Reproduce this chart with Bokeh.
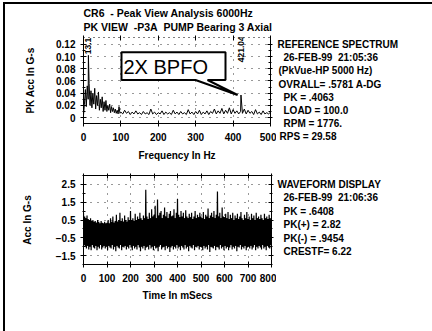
import numpy as np
from bokeh.plotting import figure
from bokeh.layouts import column, row
from bokeh.models import (ColumnDataSource, Label, LinearAxis, FixedTicker, Range1d,
                          CustomJSTickFormatter)
from bokeh.embed import file_html
from bokeh.resources import INLINE

FONT = "Liberation Sans"
NB = "\u00a0"

# ---------------- data ----------------
# Peak-view spectrum, 0-97.5 Hz in 2.5 Hz bins (G-s)
spec_low_amp = [0.004, 0.022, 0.046, 0.018, 0.052, 0.030, 0.056, 0.020, 0.044, 0.016,
                0.040, 0.022, 0.048, 0.014, 0.036, 0.020, 0.042, 0.012, 0.030, 0.016,
                0.034, 0.010, 0.026, 0.012, 0.028, 0.010, 0.020, 0.012, 0.022, 0.008,
                0.018, 0.010, 0.016, 0.008, 0.014, 0.007, 0.012, 0.006, 0.018, 0.007]
# Peak-view spectrum, 100-500 Hz in 5 Hz bins (G-s)
spec_high_amp = [0.009, 0.006, 0.012, 0.007, 0.010, 0.005, 0.009, 0.006, 0.011, 0.006,
                 0.008, 0.005, 0.010, 0.006, 0.008, 0.005, 0.014, 0.006, 0.009, 0.005,
                 0.008, 0.006, 0.011, 0.005, 0.009, 0.006, 0.008, 0.005, 0.012, 0.006,
                 0.009, 0.005, 0.010, 0.006, 0.008, 0.005, 0.013, 0.006, 0.009, 0.005,
                 0.010, 0.006, 0.012, 0.005, 0.009, 0.006, 0.011, 0.005, 0.010, 0.007,
                 0.014, 0.006, 0.011, 0.007, 0.015, 0.006, 0.012, 0.007, 0.016, 0.006,
                 0.013, 0.007, 0.011, 0.006, 0.010, 0.007, 0.014, 0.006, 0.012, 0.007,
                 0.010, 0.005, 0.013, 0.006, 0.009, 0.005, 0.011, 0.006, 0.008, 0.006,
                 0.009]
# Labelled spectral peaks
peak_freq = [13.1, 421.04]
peak_amp = [0.102, 0.037]
peak_text = ["13.1", "421.04"]

# Waveform local maxima (t = 0, 5, ..., 795 ms) and minima (t = 2.5, 7.5, ... ms), G-s
wave_max = [0.90, 0.70, 0.60, 0.75, 0.55, 0.50, 0.60, 0.45, 0.50, 0.40,
            0.45, 0.35, 0.50, 0.40, 0.30, 0.45, 0.35, 0.30, 0.40, 0.30,
            0.35, 0.50, 0.30, 0.60, 0.40, 0.70, 0.35, 0.45, 0.80, 0.40,
            0.50, 0.90, 0.45, 0.60, 0.40, 0.75, 0.50, 0.40, 0.65, 0.50,
            1.00, 0.50, 0.60, 0.45, 0.85, 0.50, 0.70, 0.55, 0.90, 0.60,
            0.50, 0.75, 0.60, 2.20, 0.70, 0.55, 0.90, 0.60, 1.10, 0.70,
            0.80, 1.30, 0.60, 1.65, 0.75, 0.90, 1.00, 0.60, 0.80, 1.20,
            0.70, 0.95, 0.60, 0.85, 1.00, 0.70, 0.75, 1.10, 0.60, 0.90,
            1.70, 0.80, 0.65, 1.00, 0.70, 0.90, 0.60, 1.05, 0.70, 0.60,
            0.85, 0.65, 0.90, 0.55, 0.70, 1.00, 0.60, 0.80, 0.65, 0.90,
            0.70, 0.60, 0.95, 0.55, 0.80, 0.70, 1.15, 0.60, 0.75, 0.90,
            0.65, 1.00, 0.60, 0.80, 2.10, 0.70, 0.90, 0.60, 1.20, 0.70,
            0.65, 0.85, 0.60, 0.95, 0.55, 0.80, 0.60, 0.90, 0.50, 0.75,
            0.60, 0.85, 0.55, 0.70, 0.95, 0.60, 0.50, 0.80, 0.60, 0.95,
            0.55, 0.70, 0.50, 0.85, 0.60, 0.75, 0.50, 0.90, 0.60, 0.70,
            0.55, 0.80, 0.60, 0.50, 0.85, 0.60, 0.70, 0.55, 0.80, 0.60]
wave_min = [-0.90, -1.00, -1.10, -0.95, -1.15, -1.00, -1.20, -0.90, -1.05, -1.10,
            -0.95, -1.20, -1.00, -1.10, -0.90, -1.15, -1.05, -0.95, -1.10, -1.00,
            -1.20, -0.95, -1.05, -1.10, -0.90, -1.15, -1.00, -1.25, -0.95, -1.05,
            -1.10, -0.90, -1.20, -1.00, -1.05, -0.95, -1.15, -1.00, -1.10, -0.90,
            -1.05, -1.20, -0.95, -1.10, -1.00, -1.15, -0.90, -1.05, -1.25, -1.00,
            -1.10, -0.95, -1.20, -1.05, -1.00, -1.15, -0.90, -1.10, -1.00, -1.20,
            -0.95, -1.10, -1.05, -1.25, -1.00, -0.90, -1.15, -1.05, -1.00, -1.20,
            -0.95, -1.10, -1.00, -1.30, -1.05, -0.95, -1.15, -1.00, -1.10, -0.90,
            -1.10, -1.00, -1.20, -0.95, -1.05, -1.15, -0.90, -1.10, -1.00, -1.25,
            -0.95, -1.05, -1.10, -0.90, -1.20, -1.00, -1.05, -0.95, -1.15, -1.00,
            -1.05, -1.20, -0.95, -1.10, -1.00, -1.15, -0.90, -1.30, -1.00, -1.05,
            -1.10, -0.95, -1.20, -1.00, -1.05, -1.15, -0.90, -1.10, -1.00, -1.20,
            -0.95, -1.10, -1.00, -1.20, -1.05, -0.90, -1.15, -1.00, -1.10, -0.95,
            -1.25, -1.00, -1.05, -0.90, -1.15, -1.00, -1.10, -0.95, -1.20, -1.05,
            -1.00, -1.10, -0.95, -1.15, -1.05, -0.90, -1.20, -1.00, -1.10, -0.95,
            -1.05, -1.15, -0.90, -1.10, -1.00, -1.20, -0.95, -1.05, -1.10, -0.90]

title_lines = ["CR6" + NB + " - Peak View Analysis 6000Hz",
               "PK VIEW" + NB + " -P3A" + NB + " PUMP Bearing 3 Axial"]
spectrum_info = ["REFERENCE SPECTRUM", "26-FEB-99" + NB + " 21:05:36", "(PkVue-HP 5000 Hz)",
                 "OVRALL= .5781 A-DG", "PK  =  .4063", "LOAD = 100.0",
                 "RPM =  1776.", "RPS =  29.58"]
spectrum_indent = [0, 6, 1, 1, 6, 6, 6, 2]
waveform_info = ["WAVEFORM DISPLAY", "26-FEB-99" + NB + " 21:06:36", "PK  =  .6408",
                 "PK(+) = 2.82", "PK(-) = .9454", "CRESTF= 6.22"]
waveform_indent = [0, 6, 6, 6, 6, 6]

spec_xticks = [0, 100, 200, 300, 400, 500]
spec_yticks = [0.0, 0.02, 0.04, 0.06, 0.08, 0.10, 0.12]
wave_xticks = [0, 100, 200, 300, 400, 500, 600, 700, 800]
wave_yticks = [-1.5, -0.5, 0.5, 1.5, 2.5]

# ---------------- assembled series ----------------
freq = np.concatenate([np.arange(len(spec_low_amp)) * 2.5,
                       100 + np.arange(len(spec_high_amp)) * 5.0,
                       peak_freq])
amp = np.concatenate([spec_low_amp, spec_high_amp, peak_amp])
order = np.argsort(freq)
spec_src = ColumnDataSource(dict(f=freq[order], a=amp[order]))

n = len(wave_max)
t_max = np.arange(n) * 5.0
t = np.empty(2 * n)
v = np.empty(2 * n)
t[0::2] = t_max
t[1::2] = t_max + 2.5
v[0::2] = wave_max
v[1::2] = wave_min
wave_src = ColumnDataSource(dict(t=t, v=v))
# solid core of the trace: the band every neighbouring swing crosses
wmax = np.array(wave_max)
wmin = np.array(wave_min)
core_hi = np.array([wmax[max(i - 1, 0):i + 2].min() for i in range(n)])
core_lo = np.array([wmin[max(i - 1, 0):i + 2].max() for i in range(n)])
core_src = ColumnDataSource(dict(t=t_max, hi=core_hi, lo=core_lo))

# ---------------- page geometry (px) ----------------
W = 432
HDR = 33                      # header strip height
H1 = 163 - HDR                # spectrum row
H2 = 168                      # waveform row
PW = 276                      # width of the chart column
F1 = (83, 37, 270, 124)       # spectrum frame: left, top, right, bottom (page px)
F2 = (83, 175, 271, 264)      # waveform frame (page px)


def text_panel(width, height, x0, y0):
    """Blank figure whose data coordinates equal page pixels."""
    f = figure(width=width, height=height, x_range=Range1d(x0, x0 + width),
               y_range=Range1d(y0 + height, y0), x_axis_type=None, y_axis_type=None,
               output_backend="svg", toolbar_location=None, min_border=0,
               frame_align=False)
    f.outline_line_color = None
    f.border_fill_color = None
    f.background_fill_color = None
    return f


def put(fig, x, y, text, size="10px", style="bold"):
    fig.add_layout(Label(x=x, y=y, text=text, text_font=FONT, text_font_size=size,
                         text_font_style=style, text_align="left",
                         text_baseline="middle", text_color="black"))


def px_to_data(fig, frame, px, py):
    l, tp, r, b = frame
    x0, x1 = fig.x_range.start, fig.x_range.end
    y0, y1 = fig.y_range.start, fig.y_range.end
    return (x0 + (px - l) / (r - l) * (x1 - x0),
            y1 - (py - tp) / (b - tp) * (y1 - y0))


def style_axes(fig, xticks, yticks, yminor, dotted_top):
    xt = FixedTicker(ticks=xticks, minor_ticks=[])
    yt = FixedTicker(ticks=yticks, minor_ticks=yminor)
    fig.below[0].ticker = xt
    fig.left[0].ticker = yt
    for side, tk in (("right", yt), ("above", xt)):
        ax = LinearAxis(ticker=tk, formatter=CustomJSTickFormatter(code="return ''"))
        ax.major_label_text_font_size = "0px"
        ax.major_label_standoff = 0
        fig.add_layout(ax, side)
    for ax in fig.axis:
        ax.axis_line_color = "black"
        ax.major_tick_line_color = "black"
        ax.minor_tick_line_color = "black"
        ax.major_tick_in = 3
        ax.major_tick_out = 3
        ax.minor_tick_in = 2
        ax.minor_tick_out = 1
        ax.major_label_text_font = FONT
        ax.major_label_text_font_style = "bold"
        ax.major_label_text_color = "black"
        ax.axis_label_text_font = FONT
        ax.axis_label_text_font_style = "bold"
        ax.axis_label_text_font_size = "10px"
        ax.axis_label_text_color = "black"
    for ax in (fig.below[0], fig.left[0]):
        ax.major_label_text_font_size = "10px"
    for ax in (fig.right[0], fig.above[0]):
        ax.major_tick_out = 2
    if dotted_top:
        fig.above[0].axis_line_dash = "1 4"
    for g in fig.grid:
        g.grid_line_color = "black"
        g.grid_line_dash = "1 6"
        g.grid_line_alpha = 0.8
    fig.outline_line_color = None
    fig.border_fill_color = None
    fig.background_fill_color = None


# ---------------- header ----------------
hdr = text_panel(W, HDR, 0, 0)
put(hdr, 83, 12, title_lines[0], size="10.5px")
put(hdr, 83, 26, title_lines[1], size="10.5px")

# ---------------- spectrum ----------------
p1 = figure(width=PW, height=H1, x_range=Range1d(0, 500), y_range=Range1d(-0.0097, 0.1313),
            output_backend="svg", toolbar_location=None, frame_align=False,
            min_border_left=F1[0], min_border_right=PW - F1[2],
            min_border_top=F1[1] - HDR, min_border_bottom=163 - F1[3])
style_axes(p1, spec_xticks, spec_yticks, [0.01, 0.03, 0.05, 0.07, 0.09, 0.11], True)
p1.left[0].major_label_overrides = {0: "0", 0.02: "0.02", 0.04: "0.04", 0.06: "0.06",
                                    0.08: "0.08", 0.1: "0.10", 0.12: "0.12"}
p1.below[0].axis_label = "Frequency In Hz"
p1.left[0].axis_label = "PK Acc In G-s"
p1.below[0].major_label_standoff = 6
p1.below[0].axis_label_standoff = 6
p1.left[0].major_label_standoff = 5
p1.left[0].axis_label_standoff = 17

p1.line("f", "a", source=spec_src, line_color="black", line_width=1)

# callout pointing at the 2X BPFO peak
bx0, by0 = px_to_data(p1, F1, 121, 52)
bx1, by1 = px_to_data(p1, F1, 225, 80)
base_a, _ = px_to_data(p1, F1, 195, 80)
base_b, _ = px_to_data(p1, F1, 207, 80)
tip_x, tip_y = peak_freq[1] - 9, peak_amp[1]
p1.patch([bx0, bx1, bx1, base_b, tip_x, base_a, bx0],
         [by0, by0, by1, by1, tip_y, by1, by1],
         fill_color="white", line_color="black", line_width=2)
tx, ty = px_to_data(p1, F1, 123, 67)
p1.add_layout(Label(x=tx, y=ty, text="2X BPFO", text_font=FONT, text_font_size="20px",
                    text_font_style="normal", text_align="left", text_baseline="middle",
                    text_color="black"))

for f_pk, lbl, py in zip(peak_freq, peak_text, [54, 62]):
    _, y = px_to_data(p1, F1, 0, py)
    p1.add_layout(Label(x=f_pk, y=y, text=lbl, text_font=FONT, text_font_size="8.5px",
                        text_font_style="bold", text_align="left", text_baseline="middle",
                        angle=np.pi / 2, text_color="black"))

t1 = text_panel(W - PW, H1, PW, HDR)
for i, (line, ind) in enumerate(zip(spectrum_info, spectrum_indent)):
    put(t1, 277 + ind, 44 + i * 13.2, line)

# ---------------- waveform ----------------
p2 = figure(width=PW, height=H2, x_range=Range1d(0, 800), y_range=Range1d(-2, 3),
            output_backend="svg", toolbar_location=None, frame_align=False,
            min_border_left=F2[0], min_border_right=PW - F2[2],
            min_border_top=F2[1] - 163, min_border_bottom=331 - F2[3])
style_axes(p2, wave_xticks, wave_yticks, [-2, -1, 0, 1, 2, 3], False)
p2.below[0].axis_label = "Time In mSecs"
p2.left[0].axis_label = "Acc In G-s"
p2.below[0].major_label_standoff = 6
p2.below[0].axis_label_standoff = 5
p2.left[0].major_label_standoff = 5
p2.left[0].axis_label_standoff = 20

p2.varea("t", "lo", "hi", source=core_src, fill_color="black")
p2.line("t", "v", source=wave_src, line_color="black", line_width=1.2)

t2 = text_panel(W - PW, H2, PW, 163)
for i, (line, ind) in enumerate(zip(waveform_info, waveform_indent)):
    put(t2, 277 + ind, 184 + i * 13.4, line)

layout = column(hdr, row(p1, t1), row(p2, t2), styles={
    "background": "white",
    "box-shadow": "inset 3px 2px 0 0 white, inset 5px 4px 0 0 black",
})

open("out.html", "w").write(file_html(layout, INLINE))
